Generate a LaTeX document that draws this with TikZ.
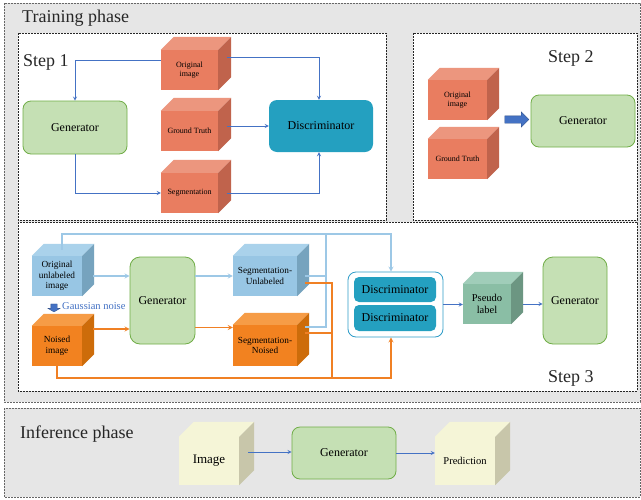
\documentclass[tikz,border=0pt]{standalone}
\usepackage{fontspec}
\setmainfont{Liberation Serif}
\usepackage{tikz}
\usetikzlibrary{shapes.arrows}

\newcommand{\cubefaces}[3]{%
  \fill[#3top] (#1.north west) -- ++(#2,-#2) -- ([shift={(#2,-#2)}]#1.north east) -- (#1.north east) -- cycle;
  \fill[#3side] (#1.north east) -- ([shift={(#2,-#2)}]#1.north east) -- ([shift={(#2,-#2)}]#1.south east) -- (#1.south east) -- cycle;
}

\tikzset{
  phasebox/.style = {draw=black!60, fill=bggray, dash pattern=on 2pt off 1pt, line width=0.6pt},
  stepbox/.style = {draw=black!85, fill=white, dash pattern=on 2pt off 1pt, line width=0.6pt},
  title/.style = {anchor=base west, inner sep=0, text=black!85, font=\fontsize{18}{21}\selectfont},
  gen/.style = {draw=genline, fill=genfill, rounded corners=8pt, line width=0.8pt, inner sep=0, font=\fontsize{12}{14}\selectfont},
  disc/.style = {fill=discfill, rounded corners=8pt, inner sep=0, font=\fontsize{12}{14}\selectfont},
  cubefront/.style = {inner sep=0, align=center},
  link/.style = {draw=linkblue, line width=0.8pt},
  bluewire/.style = {draw=wireblue, line width=1.2pt},
  orangewire/.style = {draw=wireorange, line width=1.2pt},
  blockarrow/.style = {single arrow, fill=linkblue, draw=linkblue!70!black, line width=0.3pt, inner xsep=0pt}
}

\begin{document}
\begin{tikzpicture}[x=1pt, y=-1pt]
    \definecolor{bggray}{RGB}{230,230,230}
    \definecolor{genfill}{RGB}{197,224,180}
    \definecolor{genline}{RGB}{112,173,71}
    \definecolor{discfill}{RGB}{36,160,192}
    \definecolor{discline}{RGB}{46,156,200}
    \definecolor{linkblue}{RGB}{68,114,196}
    \definecolor{wireblue}{RGB}{157,200,230}
    \definecolor{wireorange}{RGB}{240,128,36}
    \definecolor{coral}{RGB}{233,125,96}
    \definecolor{coraltop}{RGB}{236,150,126}
    \definecolor{coralside}{RGB}{192,99,76}
    \definecolor{sky}{RGB}{152,198,228}
    \definecolor{skytop}{RGB}{170,210,235}
    \definecolor{skyside}{RGB}{118,163,190}
    \definecolor{amber}{RGB}{242,130,32}
    \definecolor{ambertop}{RGB}{246,156,70}
    \definecolor{amberside}{RGB}{205,108,10}
    \definecolor{sage}{RGB}{138,190,165}
    \definecolor{sagetop}{RGB}{160,205,185}
    \definecolor{sageside}{RGB}{108,150,130}
    \definecolor{cream}{RGB}{245,245,215}
    \definecolor{creamtop}{RGB}{245,245,215}
    \definecolor{creamside}{RGB}{200,198,170}
    \useasboundingbox (0,0) rectangle (641,499);

    \draw[phasebox] (4,3) rectangle (640,402);
    \draw[phasebox] (4,408) rectangle (640,497);
    \draw[stepbox] (18,33) rectangle (386,220);
    \draw[stepbox] (413,33) rectangle (637,220);
    \draw[stepbox] (18,222) rectangle (637,391);

    \node[title] (lbl-train) at (22,22) {Training phase};
    \node[title] (lbl-infer) at (20,438) {Inference phase};
    \node[title] (lbl-step1) at (23,66) {Step 1};
    \node[title] (lbl-step2) at (548,62) {Step 2};
    \node[title] (lbl-step3) at (548,382) {Step 3};

    % step 1
    \node[cubefront, fill=coral, minimum width=57pt, minimum height=40pt, font=\fontsize{8}{9.5}\selectfont] (S1-orig) at (189.5,70) {Original\\image};
    \node[cubefront, fill=coral, minimum width=57pt, minimum height=40pt, font=\fontsize{8}{9.5}\selectfont] (S1-gt) at (189.5,131) {Ground Truth};
    \node[cubefront, fill=coral, minimum width=57pt, minimum height=40pt, font=\fontsize{8}{9.5}\selectfont] (S1-seg) at (189.5,193) {Segmentation};
    \cubefaces{S1-orig}{13}{coral}
    \cubefaces{S1-gt}{13}{coral}
    \cubefaces{S1-seg}{13}{coral}
    \node[gen, minimum width=104pt, minimum height=53pt] (S1-gen) at (75,127.5) {Generator};
    \node[disc, minimum width=104pt, minimum height=52pt] (S1-disc) at (321,126) {Discriminator};
    \coordinate (gt-out) at ([xshift=9pt]S1-gt.east);
    \draw[link,-stealth] ([yshift=10pt]S1-orig.west) -| (S1-gen.north);
    \draw[link,-stealth] ([xshift=9pt,yshift=13pt]S1-orig.east) -| ([xshift=-2pt]S1-disc.north);
    \draw[link,-stealth] (gt-out |- S1-disc.west) -- (S1-disc.west);
    \draw[link,-stealth] (S1-gen.south) |- (S1-seg.west);
    \draw[link,-stealth] ([xshift=9pt]S1-seg.east) -| ([xshift=-2pt]S1-disc.south);

    % step 2
    \node[cubefront, fill=coral, minimum width=59pt, minimum height=40pt, font=\fontsize{8}{9.5}\selectfont] (S2-orig) at (457.5,100) {Original\\image};
    \node[cubefront, fill=coral, minimum width=59pt, minimum height=40pt, font=\fontsize{8}{9.5}\selectfont] (S2-gt) at (457.5,159) {Ground Truth};
    \cubefaces{S2-orig}{12}{coral}
    \cubefaces{S2-gt}{12}{coral}
    \node[blockarrow, inner ysep=3.5pt, minimum height=24pt, single arrow head extend=4pt] (S2-arrow) at (515,119.5) {};
    \node[gen, minimum width=104pt, minimum height=52pt] (S2-gen) at (583,121) {Generator};

    % step 3
    \node[cubefront, fill=sky, minimum width=50pt, minimum height=40pt, font=\fontsize{9.3}{10.5}\selectfont] (S3-orig) at (57,276) {Original\\unlabeled\\image};
    \node[cubefront, fill=amber, minimum width=50pt, minimum height=40pt, font=\fontsize{9.3}{10.5}\selectfont] (S3-noise) at (57,346) {Noised\\image};
    \cubefaces{S3-orig}{12}{sky}
    \cubefaces{S3-noise}{12}{amber}
    \node[blockarrow, rotate=-90, inner ysep=3pt, minimum height=8pt, single arrow head extend=3pt, single arrow tip angle=120] (S3-gauss) at (54,307) {};
    \node[anchor=west, inner sep=0, text=linkblue, font=\fontsize{10.5}{12}\selectfont] (lbl-gauss) at (62,306) {Gaussian noise};
    \node[gen, rounded corners=10pt, minimum width=65pt, minimum height=87pt] (S3-gen) at (162.5,300.5) {Generator};
    \node[cubefront, fill=sky, minimum width=64pt, minimum height=40pt, font=\fontsize{9.3}{10.5}\selectfont] (S3-segu) at (265,276) {Segmentation-\\Unlabeled};
    \node[cubefront, fill=amber, minimum width=64pt, minimum height=41pt, font=\fontsize{9.3}{10.5}\selectfont] (S3-segn) at (265,345.5) {Segmentation-\\Noised};
    \cubefaces{S3-segu}{12}{sky}
    \cubefaces{S3-segn}{12}{amber}
    \node[draw=discline, fill=white, rounded corners=8pt, line width=0.8pt, minimum width=95pt, minimum height=65pt] (S3-dgrp) at (395.5,304.5) {};
    \node[disc, rounded corners=5pt, minimum width=82pt, minimum height=25pt] (S3-disc1) at (395,289.5) {Discriminator};
    \node[disc, rounded corners=5pt, minimum width=82pt, minimum height=26pt] (S3-disc2) at (395,318) {Discriminator};
    \node[cubefront, fill=sage, minimum width=48pt, minimum height=40pt, font=\fontsize{10.5}{12}\selectfont] (S3-pseudo) at (487,304) {Pseudo\\label};
    \cubefaces{S3-pseudo}{12}{sage}
    \node[gen, rounded corners=10pt, minimum width=64pt, minimum height=87pt] (S3-gen2) at (575,300.5) {Generator};

    \coordinate (bus-top) at (326,234);
    \coordinate (bus-bot) at (332,378);
    \coordinate (nz-out) at ([xshift=11pt,yshift=17pt]S3-noise.east);
    \coordinate (sn-in) at ([yshift=18pt]S3-segn.west);
    \coordinate (pl-out) at ([xshift=12pt]S3-pseudo.east);
    \draw[bluewire,-stealth] ([xshift=11pt]S3-orig.east) -- (S3-orig.east -| S3-gen.west);
    \draw[orangewire,-stealth] (nz-out) -- (nz-out -| S3-gen.west);
    \draw[bluewire,-stealth] (S3-gen.east |- S3-segu.west) -- (S3-segu.west);
    \draw[orangewire,-stealth] (sn-in -| S3-gen.east) -- (sn-in);
    \draw[bluewire,-stealth] ([xshift=5pt,yshift=6pt]S3-orig.north) |- (bus-top) -| ([xshift=-4.5pt]S3-dgrp.north);
    \draw[bluewire] ([xshift=8pt]S3-segu.east) -| (bus-top);
    \draw[bluewire] ([xshift=8pt,yshift=18.5pt]S3-segn.east) -| (bus-top);
    \draw[orangewire,-stealth] (S3-noise.south) |- (bus-bot) -| ([xshift=-4.5pt]S3-dgrp.south);
    \draw[orangewire] ([xshift=8pt,yshift=-7pt]S3-segu.east) -| (bus-bot);
    \draw[orangewire] ([xshift=8pt,yshift=12.5pt]S3-segn.east) -| (bus-bot);
    \draw[link,-stealth] (S3-dgrp.east) -- (S3-dgrp.east -| S3-pseudo.west);
    \draw[link,-stealth] (pl-out) -- (pl-out -| S3-gen2.west);

    % inference
    \node[cubefront, fill=cream, minimum width=60pt, minimum height=48pt, font=\fontsize{13}{15}\selectfont] (IN-img) at (209,461) {Image};
    \node[cubefront, fill=cream, minimum width=60pt, minimum height=48pt, font=\fontsize{10.5}{12}\selectfont] (IN-pred) at (465,461) {Prediction};
    \cubefaces{IN-img}{15}{cream}
    \cubefaces{IN-pred}{15}{cream}
    \node[gen, minimum width=104pt, minimum height=52pt] (IN-gen) at (344,453) {Generator};
    \coordinate (img-out) at ([xshift=9pt,yshift=9pt]IN-img.east);
    \draw[link,-stealth] (img-out) -- (img-out -| IN-gen.west);
    \draw[link,-stealth] (IN-gen.east) -- (IN-gen.east -| IN-pred.west);
\end{tikzpicture}
\end{document}
